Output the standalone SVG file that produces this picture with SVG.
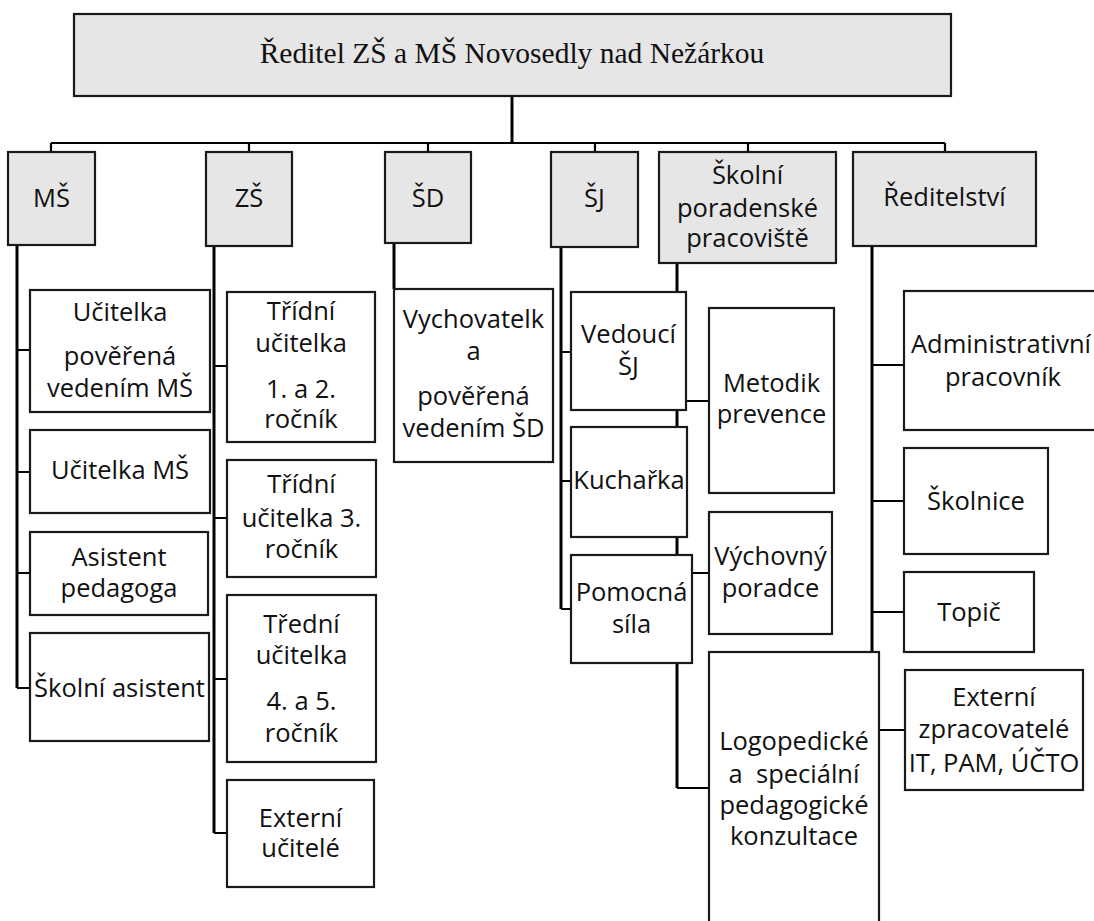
<svg xmlns="http://www.w3.org/2000/svg" width="1094" height="921" viewBox="0 0 1094 921">
  <style>
    .box{fill:#fff;stroke:#1a1a1a;stroke-width:2.2}
    .head{fill:#e6e6e6;stroke:#1a1a1a;stroke-width:2.2}
    .ln{fill:none;stroke:#000;stroke-width:2.2}
    .lv{fill:none;stroke:#000;stroke-width:3}
    text{font-family:"Open Sans","Noto Sans",sans-serif;font-size:25.5px;fill:#111;text-anchor:middle}
    .title{font-family:"Liberation Serif","Times New Roman",serif;font-size:29.5px}
  </style>
  <rect width="1094" height="921" fill="#fff"/>

  <!-- connectors, drawn under the boxes -->
  <g id="connectors">
    <path class="lv" d="M512 96V143"/>
    <path class="ln" d="M51 143H945"/>
    <path class="ln" d="M51 143V152M249 143V152M428 143V152M595 143V152M748 143V152M945 143V152"/>
    <!-- MŠ -->
    <path class="lv" d="M17 245V688"/>
    <path class="ln" d="M17 350H30M17 472H30M17 573H30M17 688H30"/>
    <!-- ZŠ -->
    <path class="lv" d="M214 246V833"/>
    <path class="ln" d="M214 366H227M214 518H227M214 679H227M214 833H227"/>
    <!-- ŠD -->
    <path class="lv" d="M394 243V289"/>
    <!-- ŠJ -->
    <path class="lv" d="M561 247V609"/>
    <path class="ln" d="M561 352H571M561 481H571M561 609H571"/>
    <!-- Školní poradenské pracoviště -->
    <path class="lv" d="M677 263V788"/>
    <path class="ln" d="M677 788H709M686 401H709M692 573H709"/>
    <!-- Ředitelství -->
    <path class="lv" d="M872 246V730"/>
    <path class="ln" d="M872 365H904M872 501H904M872 612H904M872 730H905"/>
  </g>

  <g id="reditel">
    <rect class="head" x="74" y="14" width="877" height="82"/>
    <text class="title" x="512" y="63">Ředitel ZŠ a MŠ Novosedly nad Nežárkou</text>
  </g>

  <g id="ms">
    <rect class="head" x="8" y="152" width="87" height="93"/>
    <text x="51.5" y="207">MŠ</text>
  </g>
  <g id="zs">
    <rect class="head" x="206" y="152" width="86" height="94"/>
    <text x="249" y="207">ZŠ</text>
  </g>
  <g id="sd">
    <rect class="head" x="385" y="152" width="86" height="91"/>
    <text x="428" y="207">ŠD</text>
  </g>
  <g id="sj">
    <rect class="head" x="551" y="152" width="87" height="95"/>
    <text x="594.5" y="207">ŠJ</text>
  </g>
  <g id="spp">
    <rect class="head" x="659" y="152" width="177" height="111"/>
    <text x="747.5"><tspan x="747.5" y="184">Školní</tspan><tspan x="747.5" y="217">poradenské</tspan><tspan x="747.5" y="247">pracoviště</tspan></text>
  </g>
  <g id="reditelstvi">
    <rect class="head" x="853" y="152" width="183" height="94"/>
    <text x="944.5" y="206">Ředitelství</text>
  </g>

  <!-- MŠ staff -->
  <g id="ucitelka-poverena">
    <rect class="box" x="30" y="290" width="180" height="122"/>
    <text><tspan x="120" y="321">Učitelka</tspan><tspan x="120" y="365">pověřená</tspan><tspan x="120" y="397">vedením MŠ</tspan></text>
  </g>
  <g id="ucitelka-ms">
    <rect class="box" x="30" y="430" width="180" height="83"/>
    <text x="120" y="479">Učitelka MŠ</text>
  </g>
  <g id="asistent-pedagoga">
    <rect class="box" x="30" y="532" width="178" height="83"/>
    <text><tspan x="119" y="566">Asistent</tspan><tspan x="119" y="597">pedagoga</tspan></text>
  </g>
  <g id="skolni-asistent">
    <rect class="box" x="30" y="633" width="179" height="108"/>
    <text x="119.5" y="697">Školní asistent</text>
  </g>

  <!-- ZŠ staff -->
  <g id="tridni-1-2">
    <rect class="box" x="227" y="292" width="148" height="150"/>
    <text><tspan x="301" y="320">Třídní</tspan><tspan x="301" y="352">učitelka</tspan><tspan x="301" y="398">1. a 2.</tspan><tspan x="301" y="428">ročník</tspan></text>
  </g>
  <g id="tridni-3">
    <rect class="box" x="227" y="460" width="149" height="117"/>
    <text><tspan x="301.5" y="493">Třídní</tspan><tspan x="301.5" y="527">učitelka 3.</tspan><tspan x="301.5" y="558">ročník</tspan></text>
  </g>
  <g id="tredni-4-5">
    <rect class="box" x="227" y="595" width="149" height="167"/>
    <text><tspan x="301.5" y="633">Třední</tspan><tspan x="301.5" y="664">učitelka</tspan><tspan x="301.5" y="710">4. a 5.</tspan><tspan x="301.5" y="742">ročník</tspan></text>
  </g>
  <g id="externi-ucitele">
    <rect class="box" x="227" y="780" width="147" height="107"/>
    <text><tspan x="300.5" y="827">Externí</tspan><tspan x="300.5" y="857">učitelé</tspan></text>
  </g>

  <!-- ŠD staff -->
  <g id="vychovatelka">
    <rect class="box" x="394" y="289" width="159" height="173"/>
    <text><tspan x="473.5" y="328">Vychovatelk</tspan><tspan x="473.5" y="360">a</tspan><tspan x="473.5" y="405">pověřená</tspan><tspan x="473.5" y="437">vedením ŠD</tspan></text>
  </g>

  <!-- ŠJ staff -->
  <g id="vedouci-sj">
    <rect class="box" x="571" y="292" width="115" height="118"/>
    <text><tspan x="628.5" y="343">Vedoucí</tspan><tspan x="628.5" y="375">ŠJ</tspan></text>
  </g>
  <g id="kucharka">
    <rect class="box" x="571" y="427" width="116" height="110"/>
    <text x="629" y="489">Kuchařka</text>
  </g>
  <g id="pomocna-sila">
    <rect class="box" x="571" y="555" width="121" height="108"/>
    <text><tspan x="631.5" y="601">Pomocná</tspan><tspan x="631.5" y="633">síla</tspan></text>
  </g>

  <!-- school counselling -->
  <g id="metodik-prevence">
    <rect class="box" x="709" y="308" width="125" height="185"/>
    <text><tspan x="771.5" y="392">Metodik</tspan><tspan x="771.5" y="423">prevence</tspan></text>
  </g>
  <g id="vychovny-poradce">
    <rect class="box" x="709" y="512" width="123" height="122"/>
    <text><tspan x="770.5" y="565">Výchovný</tspan><tspan x="770.5" y="597">poradce</tspan></text>
  </g>
  <g id="logopedicke">
    <rect class="box" x="709" y="652" width="170" height="290"/>
    <text><tspan x="794" y="750">Logopedické</tspan><tspan x="794" y="783">a&#160; speciální</tspan><tspan x="794" y="814">pedagogické</tspan><tspan x="794" y="845">konzultace</tspan></text>
  </g>

  <!-- Ředitelství staff -->
  <g id="administrativni">
    <rect class="box" x="904" y="291" width="202" height="139"/>
    <text><tspan x="1001" y="353">Administrativní</tspan><tspan x="1003" y="386">pracovník</tspan></text>
  </g>
  <g id="skolnice">
    <rect class="box" x="904" y="448" width="144" height="106"/>
    <text x="976" y="510">Školnice</text>
  </g>
  <g id="topic">
    <rect class="box" x="904" y="572" width="130" height="80"/>
    <text x="969" y="621">Topič</text>
  </g>
  <g id="externi-zpracovatele">
    <rect class="box" x="905" y="670" width="178" height="120"/>
    <text><tspan x="994" y="706">Externí</tspan><tspan x="994" y="738">zpracovatelé</tspan><tspan x="994" y="772">IT, PAM, ÚČTO</tspan></text>
  </g>
</svg>
